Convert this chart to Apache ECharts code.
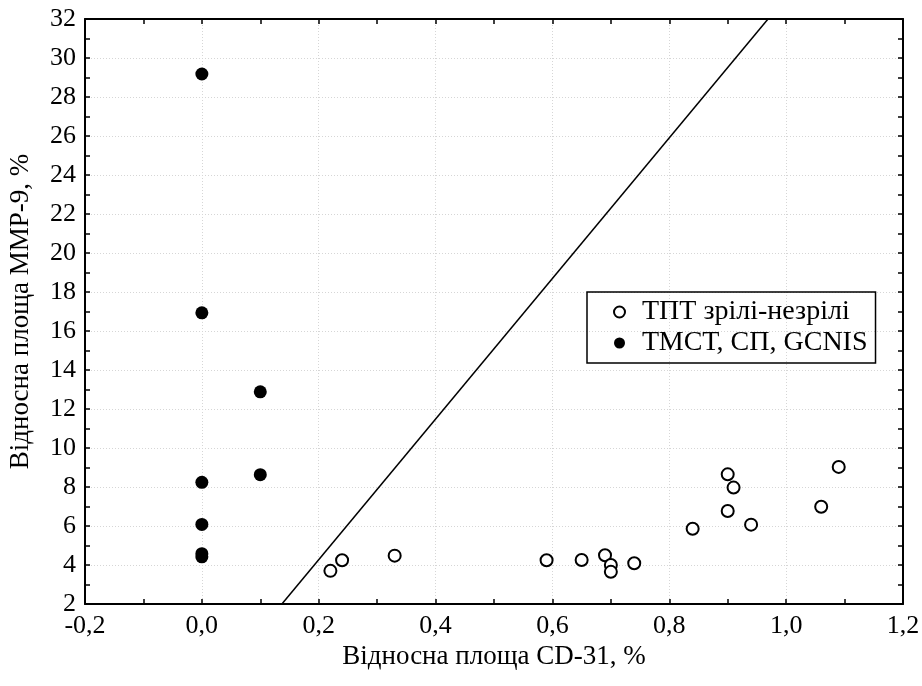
<!DOCTYPE html>
<html>
<head>
<meta charset="utf-8">
<script src="https://cdn.jsdelivr.net/npm/echarts@6/dist/echarts.min.js"></script>
<style>
  html, body { margin: 0; padding: 0; background: #fff; }
  #chart { width: 922px; height: 686px; }
</style>
</head>
<body>
<div id="chart"></div>
<script>
// дані з рисунка
var openName = 'ТПТ зрілі-незрілі';
var filledName = 'ТМСТ, СП, GCNIS';
var openX = [0.22, 0.24, 0.33, 0.59, 0.65, 0.69, 0.70, 0.70, 0.74, 0.84, 0.90, 0.91, 0.90, 0.94, 1.06, 1.09];
var openY = [3.7, 4.24, 4.48, 4.24, 4.26, 4.5, 4.0, 3.65, 4.09, 5.86, 8.65, 7.97, 6.77, 6.07, 6.99, 9.03];
var filledX = [0.0, 0.0, 0.1, 0.1, 0.0, 0.0, 0.0, 0.0];
var filledY = [29.18, 16.93, 12.88, 8.63, 8.24, 6.08, 4.58, 4.42];
var lineX = [0.137, 0.969];
var lineY = [2, 32];

function pairs(xs, ys){
    var out = [];
    xs.forEach(function(x, i){ out.push([x, ys[i]]); });
    return out;
}
function fmt(v){
    return v.toFixed(1).replace('.', ',');
}

var font = '"Liberation Serif", "Times New Roman", serif';
var chart = echarts.init(document.getElementById('chart'));

var lineStyle = { color: '#000', width: 2 };
var tickStyle = { color: '#000', width: 1.5 };
var gridLine = { show: true, lineStyle: { color: '#d6d6d6', type: [1, 2], width: 1 } };
var option = {
    animation: false,
    backgroundColor: '#fff',
    grid: { left: 85, right: 19, top: 19, bottom: 82, outerBoundsMode: 'none' },
    legend: {
        left: 587, top: 292,
        orient: 'vertical',
        borderColor: '#000', borderWidth: 1.5,
        padding: [6, 8, 6, 26],
        itemGap: 3,
        itemWidth: 11, itemHeight: 11,
        textStyle: { fontFamily: font, fontSize: 28, color: '#000', padding: [0, 0, 0, 12] },
        data: [openName, filledName]
    },
    xAxis: [{
        type: 'value', min: -0.2, max: 1.2, interval: 0.2,
        name: 'Відносна площа CD-31, %', nameLocation: 'middle', nameGap: 37,
        nameTextStyle: { fontFamily: font, fontSize: 27, color: '#000' },
        axisLine: { onZero: false, lineStyle: lineStyle },
        axisTick: { inside: true, length: 5, lineStyle: tickStyle },
        minorTick: { show: true, splitNumber: 2, length: 5, lineStyle: tickStyle },
        axisLabel: { formatter: fmt, fontFamily: font, fontSize: 26, color: '#000', margin: 9 },
        splitLine: gridLine
    }, {
        type: 'value', min: -0.2, max: 1.2, interval: 0.1, position: 'top',
        axisLine: { onZero: false, lineStyle: lineStyle },
        axisTick: { inside: true, length: 5, lineStyle: tickStyle },
        axisLabel: { show: false },
        splitLine: { show: false }
    }],
    yAxis: [{
        type: 'value', min: 2, max: 32, interval: 2,
        name: 'Відносна площа ММР-9, %', nameLocation: 'middle', nameGap: 51,
        nameTextStyle: { fontFamily: font, fontSize: 27, color: '#000' },
        axisLine: { onZero: false, lineStyle: lineStyle },
        axisTick: { inside: true, length: 5, lineStyle: tickStyle },
        minorTick: { show: true, splitNumber: 2, length: 5, lineStyle: tickStyle },
        axisLabel: { fontFamily: font, fontSize: 26, color: '#000', margin: 9 },
        splitLine: gridLine
    }, {
        type: 'value', min: 2, max: 32, interval: 1, position: 'right',
        axisLine: { onZero: false, lineStyle: lineStyle },
        axisTick: { inside: true, length: 5, lineStyle: tickStyle },
        axisLabel: { show: false },
        splitLine: { show: false }
    }],
    series: [{
        name: openName,
        type: 'scatter',
        symbol: 'circle', symbolSize: 12,
        itemStyle: { color: '#fff', borderColor: '#000', borderWidth: 2, opacity: 1 },
        data: pairs(openX, openY),
        z: 5
    }, {
        name: filledName,
        type: 'scatter',
        symbol: 'circle', symbolSize: 13,
        itemStyle: { color: '#000', borderColor: '#000', borderWidth: 0, opacity: 1 },
        data: pairs(filledX, filledY),
        z: 5
    }, {
        type: 'line',
        data: pairs(lineX, lineY),
        showSymbol: false, symbol: 'none',
        lineStyle: { color: '#000', width: 1.5 },
        silent: true,
        z: 3
    }]
};
chart.setOption(option);
</script>
</body>
</html>
